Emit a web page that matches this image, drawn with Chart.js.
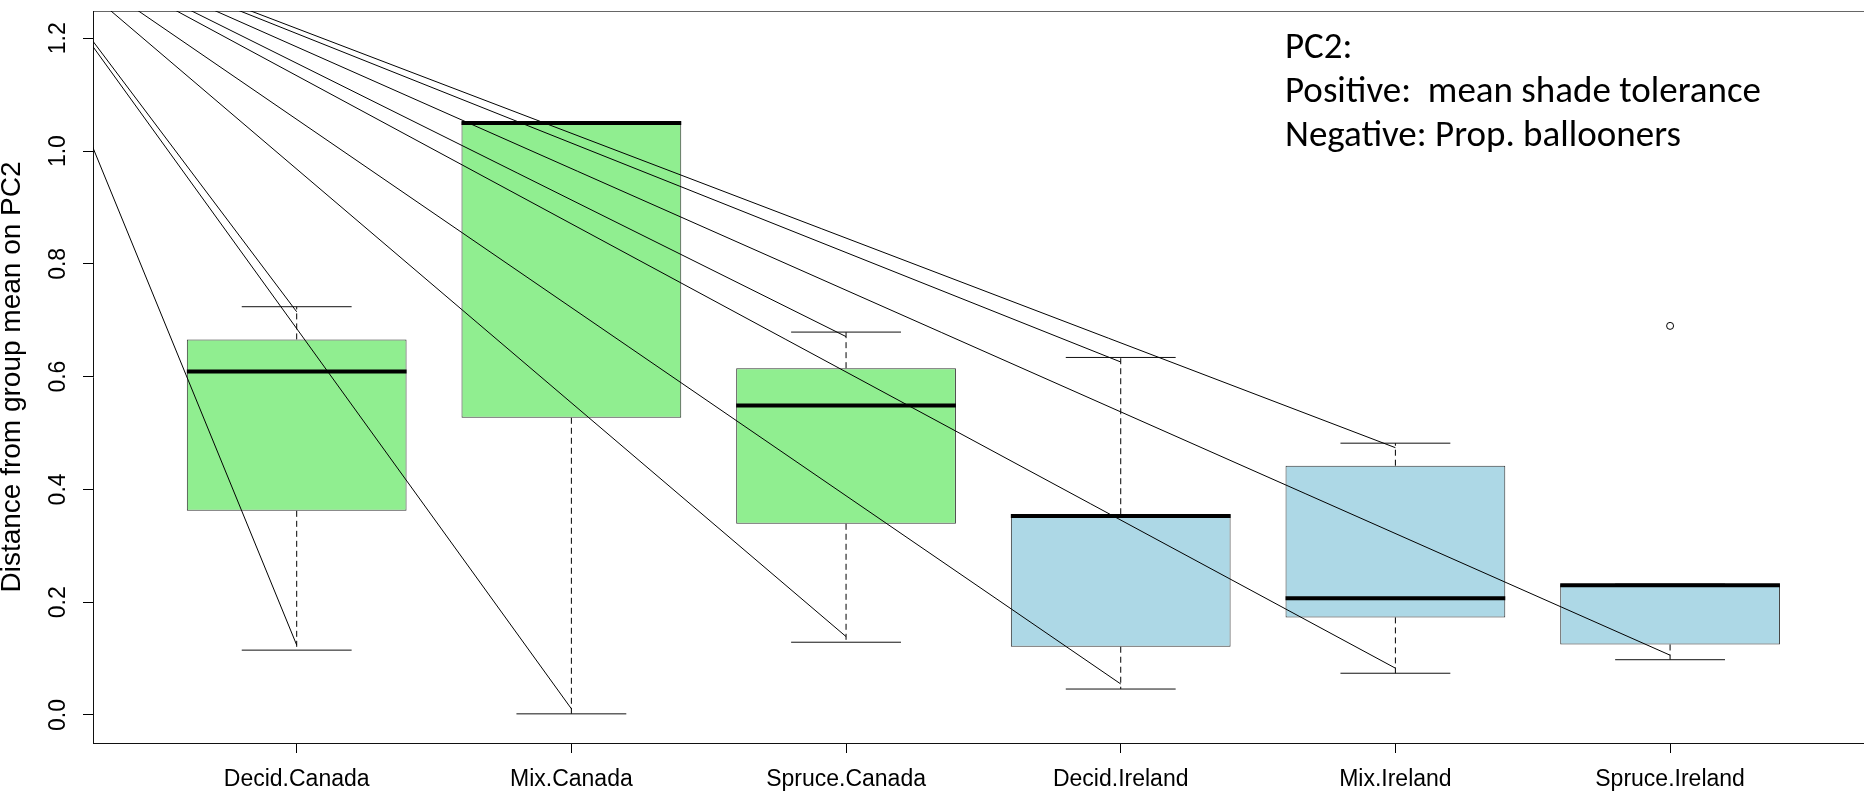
<!DOCTYPE html>
<html>
<head>
<meta charset="utf-8">
<script src="https://cdn.jsdelivr.net/npm/chart.js@4.4.1/dist/chart.umd.min.js"></script>
<style>
  html, body { margin: 0; padding: 0; background: #fff; }
  canvas { display: block; }
</style>
</head>
<body>
<canvas id="chart" width="1864" height="791"></canvas>
<script>
// Box-plot summary per habitat group (distance from group mean on PC2)
const groups       = ['Decid.Canada', 'Mix.Canada', 'Spruce.Canada', 'Decid.Ireland', 'Mix.Ireland', 'Spruce.Ireland'];
const lowerWhisker = [0.115, 0.002, 0.129, 0.046, 0.074, 0.098];
const q1           = [0.362, 0.527, 0.339, 0.121, 0.173, 0.125];
const medians      = [0.609, 1.050, 0.549, 0.353, 0.207, 0.230];
const q3           = [0.666, 1.052, 0.615, 0.356, 0.442, 0.232];
const upperWhisker = [0.724, 1.052, 0.679, 0.634, 0.482, 0.232];
const outliers     = [[], [], [], [], [], [0.690]];

// Guide lines running from one common start point to the whisker ends
const linkStart     = [-0.09, 1.42];
const linkUpperEnds = [0.715, null, 0.671, 0.626, 0.474, null];
const linkLowerEnds = [0.124, 0.011, 0.139, 0.055, 0.083, 0.106];

// Axis settings
const yTickStep = 0.2;
const yRange = [-0.0497, 1.2484];
const xRange = [0.2584, 6.706];

const noteLines = ['PC2:', 'Positive:  mean shade tolerance', 'Negative: Prop. ballooners'];

const HALF_BOX = 0.4;
const HALF_CAP = 0.2;
const fillFor = name => name.endsWith('Canada') ? '#90EE90' : '#ADD8E6';
const gap = x => ({ x, y: null });

const boxData = groups.map((g, i) => ({ x: i + 1, y: [q1[i], q3[i]] }));

const medianPts = groups.flatMap((g, i) => {
  const x = i + 1;
  return [{ x: x - HALF_BOX, y: medians[i] }, { x: x + HALF_BOX, y: medians[i] }, gap(x + HALF_BOX)];
});

const capPts = groups.flatMap((g, i) => {
  const x = i + 1;
  return [
    { x: x - HALF_CAP, y: upperWhisker[i] }, { x: x + HALF_CAP, y: upperWhisker[i] }, gap(x),
    { x: x - HALF_CAP, y: lowerWhisker[i] }, { x: x + HALF_CAP, y: lowerWhisker[i] }, gap(x)
  ];
});

const whiskerPts = groups.flatMap((g, i) => {
  const x = i + 1;
  return [
    { x, y: q3[i] }, { x, y: upperWhisker[i] }, gap(x),
    { x, y: q1[i] }, { x, y: lowerWhisker[i] }, gap(x)
  ];
});

const linkPts = groups.flatMap((g, i) => {
  const x = i + 1;
  const out = [];
  [linkUpperEnds[i], linkLowerEnds[i]].forEach(v => {
    if (v !== null) out.push({ x: linkStart[0], y: linkStart[1] }, { x, y: v }, gap(x));
  });
  return out;
});

const outlierPts = groups.flatMap((g, i) => outliers[i].map(v => ({ x: i + 1, y: v })));

const lineBase = { type: 'line', pointRadius: 0, pointHoverRadius: 0, tension: 0, fill: false, spanGaps: false };

Chart.defaults.font.family = "'Liberation Sans', Arial, Helvetica, sans-serif";
Chart.defaults.color = '#000';

// Text note in the upper right of the plot
const notePlugin = {
  id: 'pcNote',
  afterDraw(chart) {
    const ctx = chart.ctx;
    ctx.save();
    ctx.font = '37px Carlito, Lato, sans-serif';
    ctx.fillStyle = '#000';
    ctx.textBaseline = 'alphabetic';
    ctx.textAlign = 'left';
    noteLines.forEach((t, k) => ctx.fillText(t, 1285, 58 + k * 44));
    ctx.restore();
  }
};

new Chart(document.getElementById('chart'), {
  type: 'bar',
  data: {
    datasets: [
      { ...lineBase, data: linkPts, borderColor: '#000', borderWidth: 1, order: 0 },
      { ...lineBase, data: medianPts, borderColor: '#000', borderWidth: 4, order: 1 },
      { ...lineBase, data: capPts, borderColor: '#111', borderWidth: 1, order: 2 },
      { ...lineBase, data: whiskerPts, borderColor: '#000', borderWidth: 1, borderDash: [6, 4], order: 3 },
      {
        type: 'scatter', data: outlierPts, pointStyle: 'circle', pointRadius: 3.5, pointHoverRadius: 3.5,
        pointBorderWidth: 1, pointBorderColor: '#000', pointBackgroundColor: 'rgba(0,0,0,0)', order: 4
      },
      {
        type: 'bar', data: boxData,
        backgroundColor: groups.map(fillFor),
        borderColor: '#333', borderWidth: 1, borderSkipped: false,
        categoryPercentage: 0.8, barPercentage: 1.0, order: 5
      }
    ]
  },
  options: {
    responsive: false,
    animation: false,
    events: [],
    layout: { autoPadding: false, padding: { top: 11, right: 0, bottom: 0, left: 0 } },
    plugins: { legend: { display: false }, tooltip: { enabled: false } },
    scales: {
      x: {
        type: 'linear', position: 'bottom',
        min: xRange[0], max: xRange[1], offset: false,
        grid: { display: true, drawOnChartArea: false, drawTicks: true, tickLength: 10, color: '#000', offset: false },
        border: { display: true, color: '#111', width: 1 },
        ticks: {
          stepSize: 1, includeBounds: false, autoSkip: false, maxRotation: 0, minRotation: 0,
          padding: 13, font: { size: 23 }, color: '#000',
          callback: v => Number.isInteger(v) && groups[v - 1] ? groups[v - 1] : ''
        },
        afterFit: s => { s.height = 48; s.paddingLeft = 0; s.paddingRight = 0; }
      },
      x2: {
        type: 'linear', position: 'top', min: 0, max: 1, display: true,
        ticks: { display: false },
        grid: { display: false, drawTicks: false },
        border: { display: true, color: '#666', width: 1 },
        afterFit: s => { s.height = 0; s.paddingLeft = 0; s.paddingRight = 0; }
      },
      y: {
        type: 'linear', position: 'left',
        min: yRange[0], max: yRange[1],
        grid: { display: true, drawOnChartArea: false, drawTicks: true, tickLength: 10, color: '#000' },
        border: { display: true, color: '#111', width: 1 },
        ticks: {
          stepSize: yTickStep, includeBounds: false, minRotation: 90, maxRotation: 90,
          crossAlign: 'center', padding: 8, font: { size: 23 }, color: '#000',
          callback: v => v.toFixed(1)
        },
        title: {
          display: true, text: 'Distance from group mean on PC2', color: '#000',
          font: { size: 28, lineHeight: 0.88 }, padding: { top: 0, bottom: 0 }
        },
        afterFit: s => { s.width = 93; s.paddingTop = 0; s.paddingBottom = 0; }
      }
    }
  },
  plugins: [notePlugin]
});
</script>
</body>
</html>
